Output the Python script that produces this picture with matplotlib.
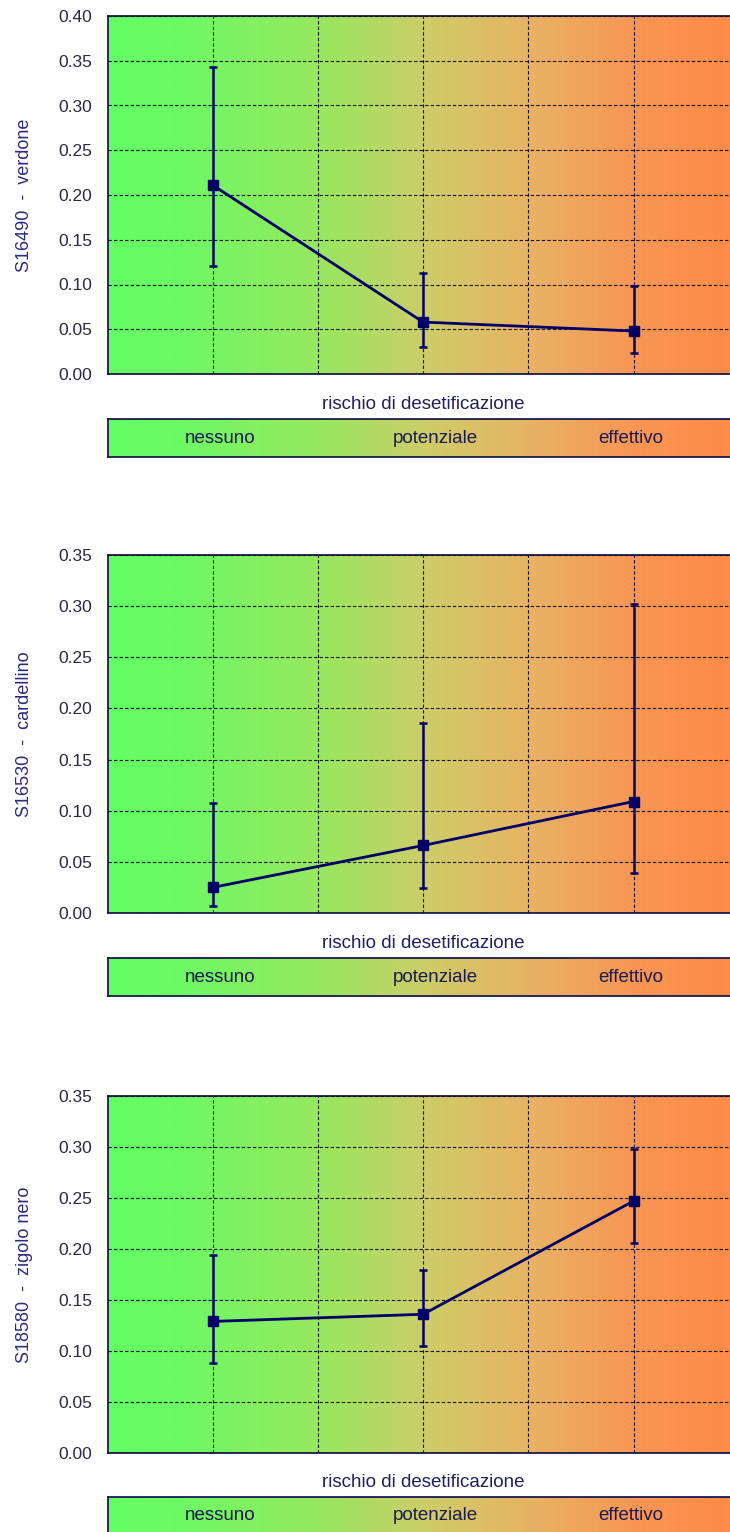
import numpy as np
import matplotlib
matplotlib.use("Agg")
import matplotlib.pyplot as plt
from matplotlib.colors import LinearSegmentedColormap

plt.rcParams['font.family'] = ['Liberation Sans', 'DejaVu Sans']

# data
groups = ["nessuno", "potenziale", "effettivo"]
xpos = [1, 3, 5]
species = ["S16490  -  verdone", "S16530  -  cardellino", "S18580  -  zigolo nero"]
ymax = [0.40, 0.35, 0.35]

mean_verdone = [0.211, 0.058, 0.048]
lo_verdone = [0.121, 0.030, 0.023]
hi_verdone = [0.343, 0.113, 0.098]

mean_cardellino = [0.025, 0.066, 0.109]
lo_cardellino = [0.007, 0.024, 0.039]
hi_cardellino = [0.108, 0.186, 0.302]

mean_zigolo = [0.129, 0.136, 0.247]
lo_zigolo = [0.088, 0.105, 0.206]
hi_zigolo = [0.194, 0.179, 0.298]

means = [mean_verdone, mean_cardellino, mean_zigolo]
lows = [lo_verdone, lo_cardellino, lo_zigolo]
highs = [hi_verdone, hi_cardellino, hi_zigolo]

NAVY = "#000066"
stops = [(0.0, (100, 255, 100)), (0.1, (106, 250, 100)), (0.33, (150, 232, 95)),
         (0.5, (205, 205, 105)), (0.67, (232, 178, 100)), (0.83, (248, 150, 85)),
         (1.0, (255, 138, 70))]
cmap = LinearSegmentedColormap.from_list(
    "risk", [(p, tuple(c / 255 for c in rgb)) for p, rgb in stops])
grad = np.linspace(0, 1, 512).reshape(1, -1)

W, H = 730, 1532
fig = plt.figure(figsize=(W / 100, H / 100), dpi=100)

left_px = 107.5
unit_px = 105.2
xmax = 6.0
width = xmax * unit_px / W

# (top, bottom) pixel rows of each plot, and box top
plot_rows = [(16, 374), (555, 913), (1096, 1453)]
box_tops = [419, 958, 1497]
box_h = 38

for i in range(3):
    top, bot = plot_rows[i]
    ax = fig.add_axes([left_px / W, 1 - bot / H, width, (bot - top) / H])
    ax.imshow(grad, cmap=cmap, aspect="auto", extent=[0, 1, 0, 1],
              transform=ax.transAxes, zorder=0)
    m = np.array(means[i])
    yerr = [m - np.array(lows[i]), np.array(highs[i]) - m]
    ax.errorbar(xpos, m, yerr=yerr, color=NAVY, lw=2.0, marker="s", ms=7,
                capsize=3, capthick=1.8, elinewidth=1.8, zorder=3)
    ax.set_xlim(0, xmax)
    ax.set_ylim(0, ymax[i])
    ticks = np.arange(0, ymax[i] + 0.001, 0.05)
    ax.set_yticks(ticks)
    ax.set_yticklabels([f"{v:.2f}" for v in ticks])
    ax.set_xticks([1, 2, 3, 4, 5])
    ax.set_xticklabels([])
    ax.tick_params(length=0, pad=11, labelsize=12.5, labelcolor="#2a2a40")
    ax.grid(True, color="#111133", ls=(0, (3, 2)), lw=0.8, zorder=1)
    ax.set_axisbelow(False)
    for s in ax.spines.values():
        s.set_color("#1a1a4d")
        s.set_linewidth(1.3)
    ax.spines["right"].set_visible(False)
    ax.set_ylabel(species[i], fontsize=13, color="#2b2b80")
    ax.yaxis.set_label_coords(-0.118, 0.5)

    # category box underneath
    bx = fig.add_axes([left_px / W, 1 - (box_tops[i] + box_h) / H, width, box_h / H])
    bx.imshow(grad, cmap=cmap, aspect="auto", extent=[0, 1, 0, 1],
              transform=bx.transAxes, zorder=0)
    bx.set_xlim(0, xmax)
    bx.set_ylim(0, 1)
    bx.set_xticks([])
    bx.set_yticks([])
    for s in bx.spines.values():
        s.set_color("#1a1a4d")
        s.set_linewidth(1.3)
    bx.spines["right"].set_visible(False)
    for g, xt in zip(groups, [1.07, 3.12, 4.97]):
        bx.text(xt, 0.5, g, ha="center", va="center", fontsize=13.5,
                color="#1a1a4d")
    bx.text(3.0, 1.37, "rischio di desetificazione", ha="center", va="center",
            fontsize=13.5, color="#202060")

fig.savefig("out.png", dpi=100)
